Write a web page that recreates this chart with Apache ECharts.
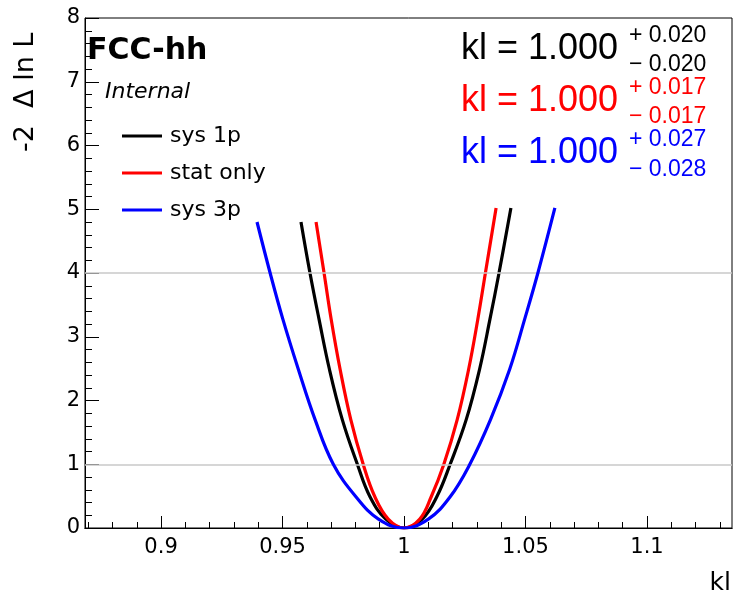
<!DOCTYPE html>
<html>
<head>
<meta charset="utf-8">
<script src="https://cdn.jsdelivr.net/npm/echarts@6/dist/echarts.min.js"></script>
<style>
html,body{margin:0;padding:0;background:#fff;}
#chart{width:733px;height:597px;}
</style>
</head>
<body>
<div id="chart"></div>
<script>
// ---- data ----
var seriesNames = ['sys 1p', 'stat only', 'sys 3p'];
var seriesColors = ['#000000', '#ff0000', '#0000ff'];

var sys1p = [
  [0.9576, 4.80], [0.9613, 4.00], [0.9650, 3.28], [0.9693, 2.49], [0.9746, 1.70],
  [0.9808, 1.00], [0.9860, 0.49], [0.9925, 0.14], [1.0000, 0.00], [1.0075, 0.14],
  [1.0135, 0.49], [1.0190, 1.00], [1.0256, 1.70], [1.0311, 2.49], [1.0354, 3.28],
  [1.0391, 4.00], [1.0440, 5.02]
];
var statOnly = [
  [0.9638, 4.80], [0.9671, 4.00], [0.9700, 3.28], [0.9737, 2.49], [0.9781, 1.70],
  [0.9832, 1.00], [0.9880, 0.49], [0.9935, 0.14], [1.0000, 0.00], [1.0065, 0.14],
  [1.0112, 0.49], [1.0164, 1.00], [1.0219, 1.70], [1.0266, 2.49], [1.0304, 3.28],
  [1.0335, 4.00], [1.0379, 5.02]
];
var sys3p = [
  [0.9395, 4.80], [0.9449, 4.00], [0.9501, 3.28], [0.9565, 2.49], [0.9634, 1.70],
  [0.9709, 1.00], [0.9802, 0.49], [0.9895, 0.14], [1.0000, 0.00], [1.0100, 0.14],
  [1.0190, 0.49], [1.0271, 1.00], [1.0356, 1.70], [1.0435, 2.49], [1.0497, 3.28],
  [1.0551, 4.00], [1.0621, 5.02]
];

var xMajorTicks = [0.9, 0.95, 1, 1.05, 1.1];
var yTicks = [0, 1, 2, 3, 4, 5, 6, 7, 8];
var refLines = [1, 4];

var fitCentral = ['1.000', '1.000', '1.000'];
var fitUp = ['0.020', '0.017', '0.027'];
var fitDown = ['0.020', '0.017', '0.028'];

var xMin = 0.8687, xMax = 1.135;
var yMin = 0, yMax = 8;

// minor tick positions every 0.01
var xMinorTicks = [];
for (var i = 87; i <= 113; i++) xMinorTicks.push(i / 100);

var FONT = 'Liberation Sans, Arial, Helvetica, sans-serif';
var WFONT = '"DejaVu Sans", sans-serif';

var chart = echarts.init(document.getElementById('chart'), null, {renderer: 'canvas'});

var grid = {left: 85, right: 1, top: 18, bottom: 69, show: true, borderColor: '#000', borderWidth: 1, backgroundColor: 'transparent'};

var xBase = {
  type: 'value', min: xMin, max: xMax, gridIndex: 0, position: 'bottom',
  splitLine: {show: false},
  axisLine: {show: true, onZero: false, lineStyle: {color: '#000', width: 1}}
};

var option = {
  animation: false,
  backgroundColor: '#fff',
  grid: grid,
  xAxis: [
    Object.assign({}, xBase, {
      axisTick: {show: true, inside: true, length: 12, customValues: xMajorTicks, lineStyle: {color: '#000', width: 1}},
      axisLabel: {show: true, customValues: xMajorTicks, color: '#000', fontFamily: WFONT, fontSize: 21, margin: 9}
    }),
    Object.assign({}, xBase, {
      axisTick: {show: true, inside: true, length: 6, customValues: xMinorTicks, lineStyle: {color: '#000', width: 1}},
      axisLabel: {show: false}
    })
  ],
  yAxis: {
    type: 'value', min: yMin, max: yMax, interval: 1,
    splitLine: {show: false},
    axisLine: {show: true, onZero: false, lineStyle: {color: '#000', width: 1}},
    axisTick: {show: true, inside: true, length: 14, lineStyle: {color: '#000', width: 1}},
    minorTick: {show: true, splitNumber: 5, length: 7, lineStyle: {color: '#000', width: 1}},
    axisLabel: {color: '#000', fontFamily: WFONT, fontSize: 21, margin: 5,
      customValues: yTicks}
  },
  legend: {
    orient: 'vertical', left: 122, top: 125, padding: 0,
    itemWidth: 40, itemHeight: 3, icon: 'rect', itemGap: 15,
    textStyle: {fontFamily: WFONT, fontSize: 22, color: '#000', lineHeight: 20, padding: [0, 0, 0, 3]},
    data: seriesNames
  },
  series: [
    {
      type: 'line', name: '__ref', data: [], z: 1, silent: true,
      markLine: {
        silent: true, symbol: ['none', 'none'], label: {show: false},
        lineStyle: {color: '#c8c8c8', width: 1.5, type: 'solid'},
        data: refLines.map(function (v) { return {yAxis: v}; })
      }
    },
    {type: 'line', name: seriesNames[0], data: sys1p, smooth: 0.4, showSymbol: false, z: 3,
      lineStyle: {color: seriesColors[0], width: 3.2}, itemStyle: {color: seriesColors[0]}},
    {type: 'line', name: seriesNames[1], data: statOnly, smooth: 0.4, showSymbol: false, z: 4,
      lineStyle: {color: seriesColors[1], width: 3.2}, itemStyle: {color: seriesColors[1]}},
    {type: 'line', name: seriesNames[2], data: sys3p, smooth: 0.4, showSymbol: false, z: 5,
      lineStyle: {color: seriesColors[2], width: 3.2}, itemStyle: {color: seriesColors[2]}}
  ],
  graphic: []
};

var g = [];
g.push({type: 'text', x: 87, y: 51, style: {text: 'FCC-hh', fill: '#000', font: 'bold 30px ' + WFONT, verticalAlign: 'middle', align: 'left'}, z: 10});
g.push({type: 'text', x: 105, y: 92, style: {text: 'Internal', fill: '#000', font: 'italic 22px ' + WFONT, verticalAlign: 'middle', align: 'left'}, z: 10});
g.push({type: 'text', x: 26, y: 152, rotation: Math.PI / 2, style: {text: '-2  \u0394 ln L', fill: '#000', font: '27px ' + WFONT, verticalAlign: 'middle', align: 'left'}, z: 10});
g.push({type: 'text', x: 731, y: 583, style: {text: 'kl', fill: '#000', font: '25px ' + WFONT, verticalAlign: 'middle', align: 'right'}, z: 10});

var mainY = [49, 101, 153];
var upY = [36, 88, 140];
var downY = [65, 117, 170];
for (var k = 0; k < 3; k++) {
  g.push({type: 'text', x: 461, y: mainY[k], style: {text: 'kl = ' + fitCentral[k], fill: seriesColors[k], font: '36px ' + FONT, verticalAlign: 'middle', align: 'left'}, z: 10});
  g.push({type: 'text', x: 629, y: upY[k], style: {text: '+ ' + fitUp[k], fill: seriesColors[k], font: '23px ' + FONT, verticalAlign: 'middle', align: 'left'}, z: 10});
  g.push({type: 'text', x: 629, y: downY[k], style: {text: '\u2212 ' + fitDown[k], fill: seriesColors[k], font: '23px ' + FONT, verticalAlign: 'middle', align: 'left'}, z: 10});
}
option.graphic = g;

chart.setOption(option);
</script>
</body>
</html>
